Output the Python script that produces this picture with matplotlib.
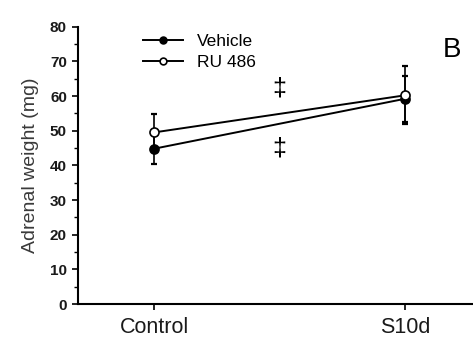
import matplotlib
matplotlib.use("Agg")
import matplotlib.pyplot as plt
from matplotlib.ticker import MultipleLocator

plt.rcParams['font.family'] = ['Liberation Sans', 'DejaVu Sans']

groups = ["Control", "S10d"]
vehicle_mean = [44.8, 59.2]
vehicle_err = [4.3, 6.6]
ru486_mean = [49.5, 60.2]
ru486_err = [5.4, 8.4]
series_labels = ["Vehicle", "RU 486"]
dagger_y = [62.3, 44.9]
ylabel = "Adrenal weight (mg)"
panel = "B"

fig = plt.figure(figsize=(4.73, 3.42), dpi=100)
ax = fig.add_axes([0.165, 0.111, 0.835, 0.811])

x = list(range(len(groups)))
ax.errorbar(x, vehicle_mean, yerr=vehicle_err, fmt='none', ecolor='black',
            elinewidth=1.2, capsize=2, capthick=1.6, zorder=2)
ax.errorbar(x, ru486_mean, yerr=ru486_err, fmt='none', ecolor='black',
            elinewidth=1.2, capsize=2, capthick=1.6, zorder=2)
h1, = ax.plot(x, vehicle_mean, color='black', lw=1.4, marker='o', ms=6.5,
              mfc='black', mec='black', mew=1.2, label=series_labels[0], zorder=3)
h2, = ax.plot(x, ru486_mean, color='black', lw=1.4, marker='o', ms=6.5,
              mfc='white', mec='black', mew=1.2, label=series_labels[1], zorder=4)

for yv in dagger_y:
    ax.text(0.5, yv, "\u2021", ha='center', va='center', fontsize=18, color='black')

ax.set_xlim(-0.303, 1.271)
ax.set_ylim(0, 80)
ax.set_xticks(x)
ax.set_xticklabels(groups, fontsize=15.5, color='#1a1a1a')
ax.yaxis.set_major_locator(MultipleLocator(10))
ax.yaxis.set_minor_locator(MultipleLocator(5))
for lab in ax.get_yticklabels():
    lab.set_fontweight('bold')
ax.tick_params(axis='y', which='major', length=4, width=1.2, labelsize=11, pad=4, labelcolor='#1a1a1a')
ax.tick_params(axis='y', which='minor', length=3, width=1.0)
ax.tick_params(axis='x', length=4, width=1.2, pad=5)
ax.set_ylabel(ylabel, fontsize=14, color='#3a3a3a', labelpad=8)

ax.spines['top'].set_visible(False)
ax.spines['right'].set_visible(False)
ax.spines['left'].set_linewidth(1.5)
ax.spines['bottom'].set_linewidth(1.5)

leg = ax.legend(handles=[h1, h2], loc='upper left', bbox_to_anchor=(143/473, 1 - 34/342),
                bbox_transform=fig.transFigure, frameon=False, fontsize=12.5,
                handlelength=2.3, handletextpad=0.8, labelspacing=0.32,
                borderpad=0, borderaxespad=0, markerscale=0.75)

fig.text(452/473, 1 - 50/342, panel, fontsize=20, ha='center', va='center')

fig.savefig("out.png", dpi=100)
